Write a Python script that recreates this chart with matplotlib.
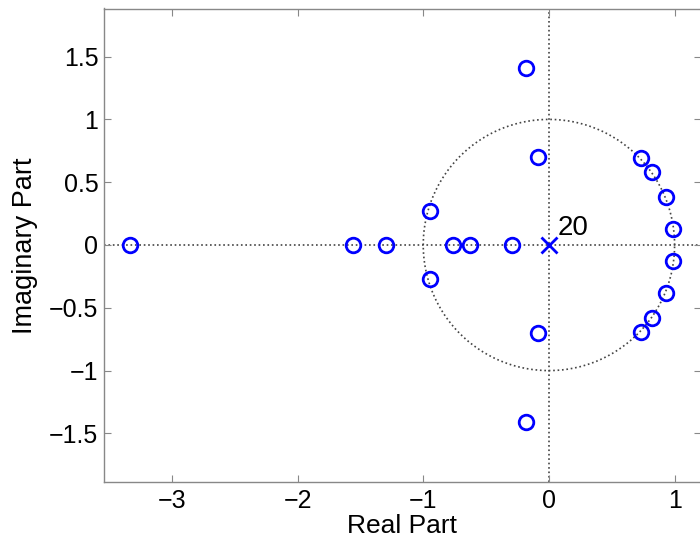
import numpy as np
import matplotlib
matplotlib.use("Agg")
import matplotlib.pyplot as plt

plt.rcParams['font.family'] = ['Liberation Sans', 'DejaVu Sans']

# Zeros (real part, imaginary part)
zero_re = [-3.33, -1.56, -1.30, -0.76, -0.63, -0.29,
           -0.95, -0.95, -0.18, -0.18, -0.09, -0.09,
           0.73, 0.73, 0.82, 0.82, 0.93, 0.93, 0.99, 0.99]
zero_im = [0, 0, 0, 0, 0, 0,
           0.27, -0.27, 1.41, -1.41, 0.70, -0.70,
           0.69, -0.69, 0.58, -0.58, 0.38, -0.38, 0.13, -0.13]
# Poles
pole_re = [0.0]
pole_im = [0.0]
pole_mult = "20"

xticks = [-3, -2, -1, 0, 1]
yticks = [-1.5, -1, -0.5, 0, 0.5, 1, 1.5]
ytick_labels = ["\u22121.5", "\u22121", "\u22120.5", "0", "0.5", "1", "1.5"]
xlim = (-3.54, 1.21)
ylim = (-1.887, 1.883)

fig = plt.figure(figsize=(7.0, 5.42), dpi=100)
ax = fig.add_axes([104/700, 60/542, 597/700, 473.5/542])

# unit circle and axes lines
t = np.linspace(0, 2*np.pi, 400)
ax.plot(np.cos(t), np.sin(t), linestyle=':', color='#444444', linewidth=1.2, zorder=1)
ax.axhline(0, linestyle=':', color='#444444', linewidth=1.2, zorder=1)
ax.axvline(0, linestyle=':', color='#444444', linewidth=1.2, zorder=1)

ax.plot(zero_re, zero_im, linestyle='none', marker='o', markersize=10.5,
        markerfacecolor='none', markeredgecolor='#0000ff', markeredgewidth=2.0, zorder=3)
ax.plot(pole_re, pole_im, linestyle='none', marker='x', markersize=11,
        markeredgecolor='#0000ff', markeredgewidth=2.0, zorder=3)
ax.text(pole_re[0] + 0.07, pole_im[0] + 0.03, pole_mult, fontsize=20, ha='left', va='bottom')

ax.set_xlim(*xlim)
ax.set_ylim(*ylim)
ax.set_xticks(xticks)
ax.set_yticks(yticks)
ax.set_yticklabels(ytick_labels)
ax.tick_params(direction='in', length=5, width=0.8, color='#888888', labelsize=18,
               top=True, right=True)
ax.tick_params(axis='x', pad=5)
ax.tick_params(axis='y', pad=4)
for s in ax.spines.values():
    s.set_color('#888888')
    s.set_linewidth(1.0)

ax.set_xlabel("Real Part", fontsize=19, labelpad=1)
ax.set_ylabel("Imaginary Part", fontsize=19.5, labelpad=8)

fig.savefig("out.png", dpi=100)
